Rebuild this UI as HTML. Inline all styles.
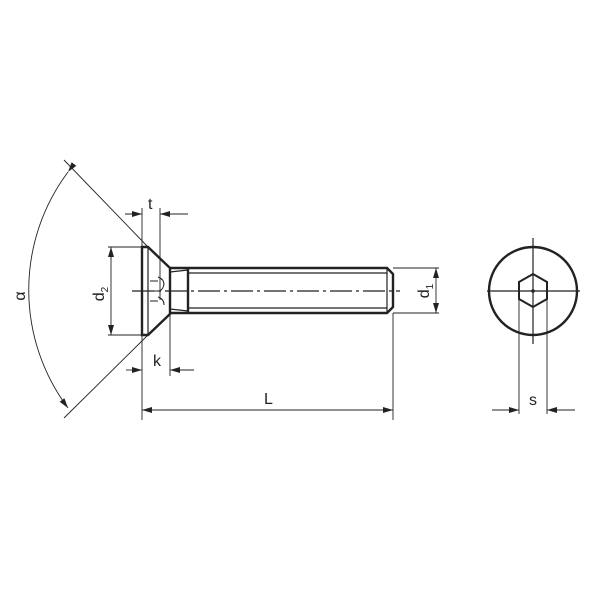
<!DOCTYPE html>
<html><head><style>
html,body{margin:0;padding:0;background:#fff;}
svg{display:block}
text{font-family:"Liberation Sans",sans-serif;fill:#222;font-size:16px}
</style></head><body>
<svg width="600" height="600" viewBox="0 0 600 600" xmlns="http://www.w3.org/2000/svg">
<defs>
<marker id="a" viewBox="0 0 10 6" refX="10" refY="3" markerWidth="10" markerHeight="6" orient="auto" markerUnits="userSpaceOnUse"><path d="M0,0 L10,3 L0,6 z" fill="#222"/></marker>
</defs>
<g stroke="#222" fill="none">
<g stroke-width="2.4">
<path d="M142,247 L148,247 L170,268 L170,314 L148,335 L142,335 Z"/>
<path d="M170,268 L387,268 L393,274 L393,307 L387,313 L170,313"/>
<line x1="188" y1="268" x2="188" y2="313"/>
<circle cx="533" cy="291" r="44"/>
<polygon points="533,274 547,282 547,299 533,307 519,299 519,282" stroke-width="2"/>
</g>
<g stroke-width="1.2">
<line x1="148" y1="247" x2="148" y2="335"/>
<line x1="188" y1="273" x2="387" y2="273"/>
<line x1="188" y1="308" x2="387" y2="308"/>
<line x1="387" y1="269" x2="387" y2="312"/>
<path d="M170,272 L188,270 M170,309 L188,311"/>
<path d="M150,281 h8 M150,291 h8 M150,301 h8 M158,277 q6,2 6,8 M158,297 q6,2 6,8 M160,291 q4,-3 4,-8" stroke-width="1"/>
<line x1="132" y1="291" x2="400" y2="291" stroke-dasharray="22,4,3,4"/>
<line x1="487" y1="291" x2="580" y2="291"/>
<line x1="533" y1="238" x2="533" y2="344"/>
</g>
<circle cx="533" cy="291" r="1.3" fill="#222"/>
<g stroke-width="0.9">
<line x1="64" y1="160" x2="148" y2="247"/>
<line x1="64" y1="418" x2="148" y2="335"/>
<path d="M68,172 A197,197 0 0 0 68,408" marker-start="url(#a)" marker-end="url(#a)"/>
<line x1="108" y1="247" x2="142" y2="247"/>
<line x1="108" y1="335" x2="142" y2="335"/>
<line x1="111" y1="260" x2="111" y2="247" marker-end="url(#a)"/>
<line x1="111" y1="255" x2="111" y2="335" marker-end="url(#a)"/>
<line x1="142" y1="208" x2="142" y2="247"/>
<line x1="160" y1="208" x2="160" y2="300"/>
<line x1="125" y1="214" x2="142" y2="214" marker-end="url(#a)"/>
<line x1="188" y1="214" x2="160" y2="214" marker-end="url(#a)"/>
<line x1="170" y1="314" x2="170" y2="376"/>
<line x1="142" y1="335" x2="142" y2="420"/>
<line x1="126" y1="370" x2="142" y2="370" marker-end="url(#a)"/>
<line x1="194" y1="370" x2="170" y2="370" marker-end="url(#a)"/>
<line x1="393" y1="313" x2="393" y2="420"/>
<line x1="270" y1="410" x2="142" y2="410" marker-end="url(#a)"/>
<line x1="260" y1="410" x2="393" y2="410" marker-end="url(#a)"/>
<line x1="393" y1="268" x2="439" y2="268"/>
<line x1="393" y1="313" x2="439" y2="313"/>
<line x1="436" y1="290" x2="436" y2="268" marker-end="url(#a)"/>
<line x1="436" y1="290" x2="436" y2="313" marker-end="url(#a)"/>
<line x1="519" y1="299" x2="519" y2="414"/>
<line x1="547" y1="299" x2="547" y2="414"/>
<line x1="492" y1="410" x2="519" y2="410" marker-end="url(#a)"/>
<line x1="575" y1="410" x2="547" y2="410" marker-end="url(#a)"/>
</g>
</g>
<text x="148" y="209">t</text>
<text x="153" y="366">k</text>
<text x="264" y="404">L</text>
<text x="529" y="405">s</text>
<text transform="translate(104,294) rotate(-90)" text-anchor="middle">d<tspan font-size="10" dy="4">2</tspan></text>
<text transform="translate(429,291) rotate(-90)" text-anchor="middle">d<tspan font-size="10" dy="4">1</tspan></text>
<text transform="translate(25,296) rotate(-90)" text-anchor="middle">α</text>
</svg>
</body></html>
